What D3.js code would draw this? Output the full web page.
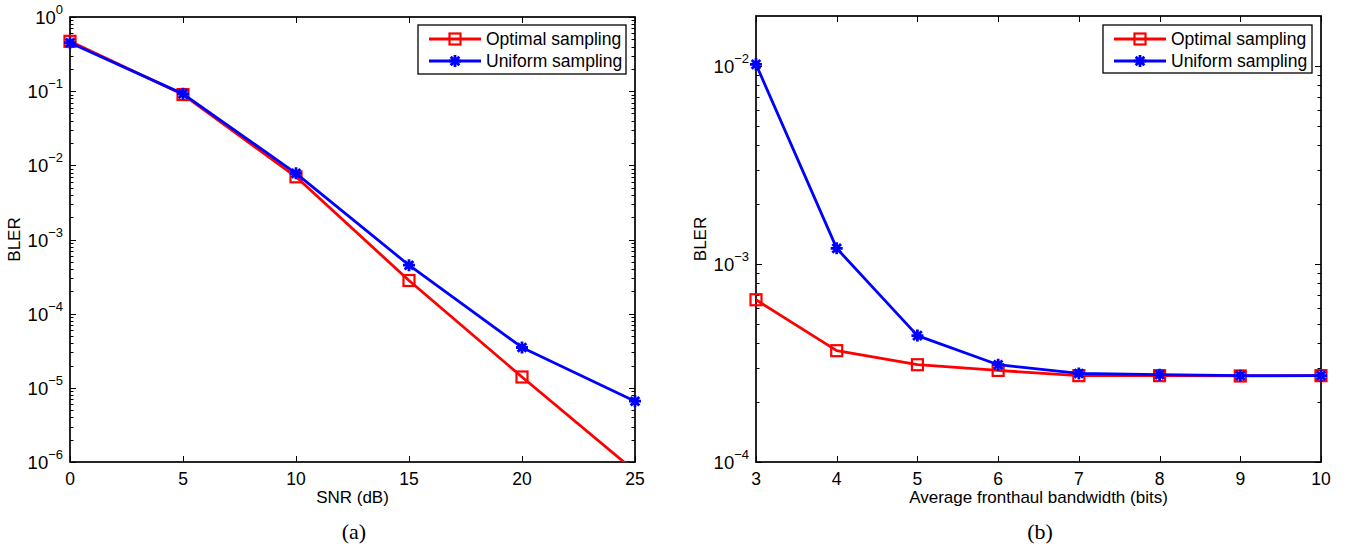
<!DOCTYPE html>
<html>
<head>
<meta charset="utf-8">
<script src="https://cdn.jsdelivr.net/npm/d3@7"></script>
<style>
  body { margin: 0; background: #fff; }
  text { font-family: "Liberation Sans", Arial, sans-serif; fill: #000; }
</style>
</head>
<body>
<div id="chart"></div>
<script>
const svgWidth = 1354;
const svgHeight = 552;

// panel (a)
const snrValues = [0, 5, 10, 15, 20, 25];
const optimalA = [0.47, 0.09, 0.007, 2.8e-4, 1.4e-5, 7.5e-7];
const uniformA = [0.45, 0.092, 0.0078, 4.5e-4, 3.5e-5, 6.6e-6];
const xTicksA = [0, 5, 10, 15, 20, 25];
const yExpA = [0, -1, -2, -3, -4, -5, -6];

// panel (b)
const bitsValues = [3, 4, 5, 6, 7, 8, 9, 10];
const optimalB = [6.6e-4, 3.65e-4, 3.1e-4, 2.9e-4, 2.73e-4, 2.73e-4, 2.72e-4, 2.73e-4];
const uniformB = [1.02e-2, 1.2e-3, 4.35e-4, 3.1e-4, 2.8e-4, 2.76e-4, 2.73e-4, 2.73e-4];
const xTicksB = [3, 4, 5, 6, 7, 8, 9, 10];
const yExpB = [-2, -3, -4];

const seriesNames = ["Optimal sampling", "Uniform sampling"];

const svg = d3.select("#chart")
  .append("svg")
    .attr("width", svgWidth)
    .attr("height", svgHeight);

// square and asterisk markers
function drawMarker(g, kind, cx, cy) {
  if (kind === "square") {
    g.append("rect")
      .attr("x", cx - 5.5).attr("y", cy - 5.5)
      .attr("width", 11).attr("height", 11)
      .attr("fill", "none")
      .attr("stroke", "#ff0000")
      .attr("stroke-width", 2.2);
  } else {
    const r = 6, d = r * 0.72;
    g.append("path")
      .attr("d", `M${cx - r},${cy}L${cx + r},${cy}M${cx},${cy - r}L${cx},${cy + r}` +
                 `M${cx - d},${cy - d}L${cx + d},${cy + d}M${cx - d},${cy + d}L${cx + d},${cy - d}`)
      .attr("stroke", "#0000ff")
      .attr("stroke-width", 2.8)
      .attr("fill", "none");
  }
}

function drawPanel(p) {
  const g = svg.append("g");
  const x = d3.scaleLinear().domain(p.xDomain).range([p.left, p.right]);
  const y = d3.scaleLog().domain(p.yDomain).range([p.bottom, p.top]);

  const clipId = "clip" + p.id;
  svg.append("clipPath").attr("id", clipId)
    .append("rect")
      .attr("x", p.left).attr("y", p.top)
      .attr("width", p.right - p.left).attr("height", p.bottom - p.top);

  // ticks, inward on all four sides
  const ticks = g.append("g").attr("stroke", "#000").attr("stroke-width", 1);
  p.xTicks.forEach(v => {
    const px = Math.round(x(v)) + 0.5;
    ticks.append("line").attr("x1", px).attr("x2", px).attr("y1", p.bottom).attr("y2", p.bottom - 6);
    ticks.append("line").attr("x1", px).attr("x2", px).attr("y1", p.top).attr("y2", p.top + 6);
  });
  const lo = Math.floor(Math.log10(p.yDomain[0]));
  const hi = Math.ceil(Math.log10(p.yDomain[1]));
  for (let e = lo; e < hi; e++) {
    for (let m = 1; m < 10; m++) {
      const v = m * Math.pow(10, e);
      if (v < p.yDomain[0] || v > p.yDomain[1]) continue;
      const py = Math.round(y(v)) + 0.5;
      const len = m === 1 ? 6 : 3.5;
      ticks.append("line").attr("x1", p.left).attr("x2", p.left + len).attr("y1", py).attr("y2", py);
      ticks.append("line").attr("x1", p.right).attr("x2", p.right - len).attr("y1", py).attr("y2", py);
    }
  }
  if (p.yDomain[1] === Math.pow(10, hi)) {
    const py = Math.round(y(p.yDomain[1])) + 0.5;
    ticks.append("line").attr("x1", p.left).attr("x2", p.left + 6).attr("y1", py).attr("y2", py);
    ticks.append("line").attr("x1", p.right).attr("x2", p.right - 6).attr("y1", py).attr("y2", py);
  }

  // frame
  g.append("rect")
    .attr("x", p.left).attr("y", p.top)
    .attr("width", p.right - p.left).attr("height", p.bottom - p.top)
    .attr("fill", "none").attr("stroke", "#000").attr("stroke-width", 1.7);

  // tick labels
  p.xTicks.forEach(v => {
    g.append("text")
      .attr("x", x(v)).attr("y", p.bottom + 23)
      .attr("text-anchor", "middle")
      .attr("font-size", 17.5)
      .text(v);
  });
  p.yExp.forEach(e => {
    const t = g.append("text")
      .attr("x", p.left - 7).attr("y", y(Math.pow(10, e)) + 7)
      .attr("text-anchor", "end")
      .attr("font-size", 18.5);
    t.append("tspan").text("10");
    t.append("tspan").attr("dy", -10).attr("font-size", 13).text(e === 0 ? "0" : "\u2212" + Math.abs(e));
  });

  // axis labels
  g.append("text")
    .attr("x", (p.left + p.right) / 2).attr("y", p.bottom + 41)
    .attr("text-anchor", "middle")
    .attr("font-size", 17)
    .text(p.xLabel);
  g.append("text")
    .attr("transform", `translate(${p.yLabelX}, ${(p.top + p.bottom) / 2}) rotate(-90)`)
    .attr("text-anchor", "middle")
    .attr("font-size", 17)
    .text("BLER");
  g.append("text")
    .attr("x", p.captionX).attr("y", 539)
    .attr("text-anchor", "middle")
    .attr("font-size", 22)
    .style("font-family", "'Liberation Serif', 'Times New Roman', serif")
    .text(p.caption);

  // series
  const series = [
    {vals: p.optimal, color: "#ff0000", marker: "square"},
    {vals: p.uniform, color: "#0000ff", marker: "star"}
  ];
  const line = d3.line().x(d => x(d[0])).y(d => y(d[1]));
  series.forEach(s => {
    const pts = p.xValues.map((v, i) => [v, s.vals[i]]);
    const sg = g.append("g").attr("clip-path", `url(#${clipId})`);
    sg.append("path")
      .attr("d", line(pts))
      .attr("fill", "none")
      .attr("stroke", s.color)
      .attr("stroke-width", 2.8)
      .attr("stroke-linejoin", "round");
    const mg = g.append("g");
    pts.forEach(d => {
      if (d[1] < p.yDomain[0]) return;
      drawMarker(mg, s.marker, x(d[0]), y(d[1]));
    });
  });

  // legend
  const lg = g.append("g");
  lg.append("rect")
    .attr("x", p.legend.x).attr("y", p.legend.y)
    .attr("width", p.legend.w).attr("height", p.legend.h)
    .attr("fill", "#fff").attr("stroke", "#000").attr("stroke-width", 1.3);
  series.forEach((s, i) => {
    const ly = p.legend.y + 14 + i * 22;
    const lx0 = p.legend.x + 11, lx1 = p.legend.x + 63;
    lg.append("line")
      .attr("x1", lx0).attr("x2", lx1).attr("y1", ly).attr("y2", ly)
      .attr("stroke", s.color).attr("stroke-width", 2.8);
    drawMarker(lg, s.marker, (lx0 + lx1) / 2, ly);
    lg.append("text")
      .attr("x", p.legend.x + 68).attr("y", ly + 6)
      .attr("font-size", 17.5)
      .text(seriesNames[i]);
  });
}

drawPanel({
  id: "a",
  left: 70, right: 635, top: 17, bottom: 462,
  xDomain: [0, 25], yDomain: [1e-6, 1],
  xValues: snrValues, optimal: optimalA, uniform: uniformA,
  xTicks: xTicksA, yExp: yExpA,
  xLabel: "SNR (dB)", yLabelX: 20, caption: "(a)", captionX: 354,
  legend: {x: 418, y: 25, w: 208, h: 49}
});

drawPanel({
  id: "b",
  left: 756, right: 1321, top: 16, bottom: 462,
  xDomain: [3, 10], yDomain: [1e-4, 0.0179],
  xValues: bitsValues, optimal: optimalB, uniform: uniformB,
  xTicks: xTicksB, yExp: yExpB,
  xLabel: "Average fronthaul bandwidth (bits)", yLabelX: 706, caption: "(b)", captionX: 1040,
  legend: {x: 1103, y: 25, w: 209, h: 48}
});
</script>
</body>
</html>
